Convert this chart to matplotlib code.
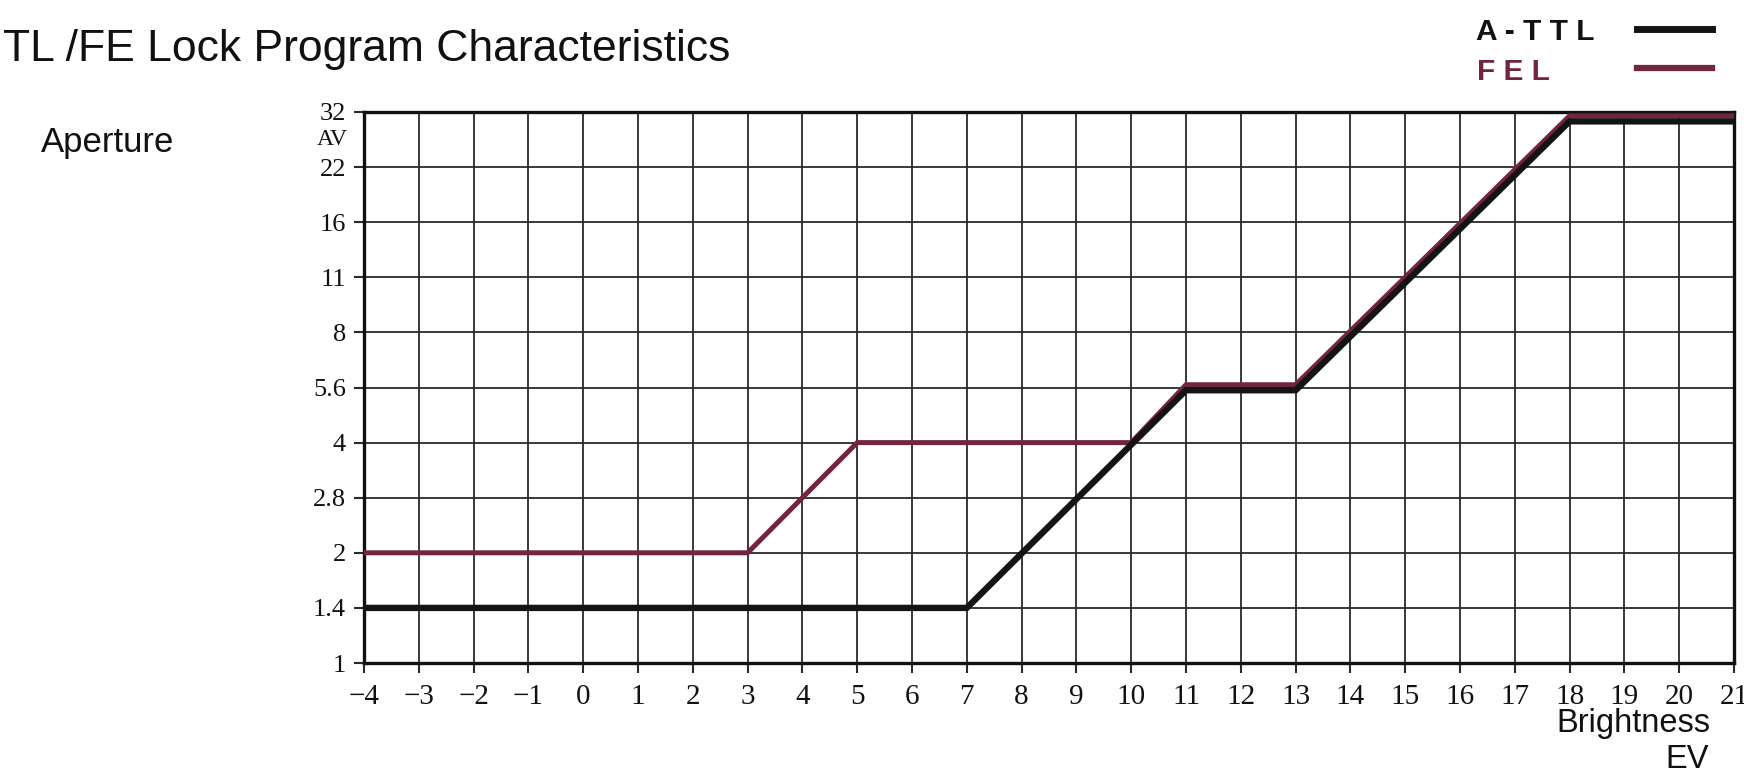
import matplotlib
matplotlib.use("Agg")
import matplotlib.pyplot as plt
from matplotlib.lines import Line2D

# ---- data ----
ev_ticks = list(range(-4, 22))
ev_labels = [("\u2212" + str(-v)) if v < 0 else str(v) for v in ev_ticks]
av_ticks = list(range(0, 11))
av_labels = ["1", "1.4", "2", "2.8", "4", "5.6", "8", "11", "16", "22", "32"]

attl_ev = [-4, 7, 11, 13, 18, 21]
attl_av = [1.0, 1.0, 4.95, 4.95, 9.83, 9.83]

fel_ev = [-4, 3, 5, 10, 11, 13, 18, 21]
fel_av = [2.0, 2.0, 4.0, 4.0, 5.05, 5.05, 9.93, 9.93]

BLACK = "#141414"
MAROON = "#74253e"
GRID = "#2a2a2a"

W, H = 1744, 776
fig = plt.figure(figsize=(W / 100, H / 100), dpi=100)
fig.patch.set_facecolor("white")

def fx(px):
    return px / W

def fy(py):
    return 1 - py / H

ax = fig.add_axes([fx(364), fy(663), (1734 - 364) / W, (663 - 112) / H])
ax.set_xlim(-4, 21)
ax.set_ylim(0, 10)

ax.plot(fel_ev, fel_av, color=MAROON, lw=3.6, solid_joinstyle="miter", zorder=3)
ax.plot(attl_ev, attl_av, color=BLACK, lw=4.6, solid_joinstyle="miter", zorder=4)

ax.set_xticks(ev_ticks)
ax.set_xticklabels(ev_labels, fontfamily="Liberation Serif", fontsize=21)
ax.set_yticks(av_ticks)
ax.set_yticklabels(av_labels, fontfamily="Liberation Serif", fontsize=19)
ax.tick_params(axis="x", direction="out", length=7, width=1.5, pad=8, colors=GRID, labelcolor="#111")
ax.tick_params(axis="y", direction="out", length=7, width=1.5, pad=6, colors=GRID, labelcolor="#111")
ax.grid(True, color=GRID, lw=1.3, zorder=1)
ax.set_axisbelow(True)
for s in ax.spines.values():
    s.set_linewidth(2.4)
    s.set_color("#111")

# AV unit label between 32 and 22
ax.text(-4.3, 9.5, "AV", transform=ax.transData, ha="right", va="center",
        fontfamily="Liberation Serif", fontsize=17, color="#111", clip_on=False)

# Title and axis labels
fig.text(fx(3), fy(61), "TL /FE Lock Program Characteristics", ha="left", va="baseline",
         fontfamily="Liberation Sans", fontsize=32, color="#111")
fig.text(fx(41), fy(152), "Aperture", ha="left", va="baseline",
         fontfamily="Liberation Sans", fontsize=25, color="#111")
fig.text(fx(1710), fy(732), "Brightness", ha="right", va="baseline",
         fontfamily="Liberation Sans", fontsize=23.5, color="#111")
fig.text(fx(1709), fy(768), "EV", ha="right", va="baseline",
         fontfamily="Liberation Sans", fontsize=23.5, color="#111")

# Legend
fig.text(fx(1476), fy(40), "A - T T L", ha="left", va="baseline",
         fontfamily="Liberation Sans", fontweight="bold", fontsize=21.5, color="#111")
fig.text(fx(1477), fy(80), "F E L", ha="left", va="baseline",
         fontfamily="Liberation Sans", fontweight="bold", fontsize=21.5, color=MAROON)
fig.add_artist(Line2D([fx(1637), fx(1712)], [fy(29), fy(29)], transform=fig.transFigure,
                      color=BLACK, lw=5))
fig.add_artist(Line2D([fx(1637), fx(1712)], [fy(68), fy(68)], transform=fig.transFigure,
                      color=MAROON, lw=4.5))

fig.savefig("out.png", dpi=100, facecolor="white")
